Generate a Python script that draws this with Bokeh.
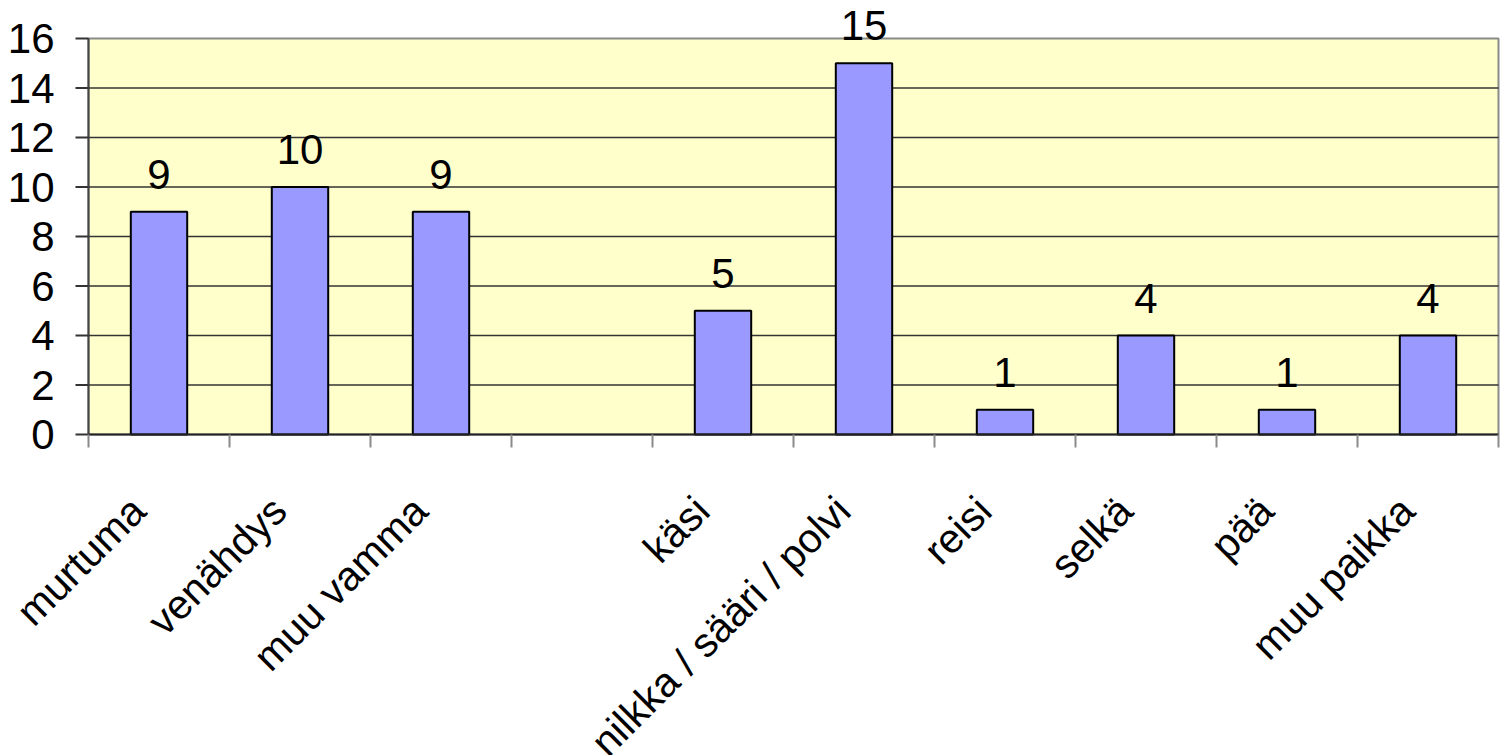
import math
from bokeh.plotting import figure
from bokeh.models import Range1d, ColumnDataSource, LabelSet
from bokeh.core.properties import value
from bokeh.embed import file_html
from bokeh.resources import INLINE

categories = ["murtuma", "venähdys", "muu vamma", "", "käsi",
              "nilkka / sääri / polvi", "reisi", "selkä", "pää", "muu paikka"]
values = [9, 10, 9, None, 5, 15, 1, 4, 1, 4]
y_ticks = [0, 2, 4, 6, 8, 10, 12, 14, 16]

FONT = "Liberation Sans"
FS = "42px"
FS_CAT = "41px"

# layout (pixels)
W, H = 1500, 755
FRAME_LEFT, FRAME_RIGHT = 88, 1498
FRAME_TOP, FRAME_BOTTOM = 38, 434
n = len(categories)
Y_MAX = y_ticks[-1]
PY = (FRAME_BOTTOM - FRAME_TOP) / Y_MAX      # px per y unit
PXX = (FRAME_RIGHT - FRAME_LEFT) / n         # px per category

xs = [i + 0.5 for i, v in enumerate(values) if v is not None]
tops = [v for v in values if v is not None]
src = ColumnDataSource(dict(x=xs, top=tops, label=[str(v) for v in tops]))

cat_names = [c for c in categories if c]
cat_src = ColumnDataSource(dict(
    x=[i + 0.5 - 37 / PXX for i, c in enumerate(categories) if c],
    y=[-53 / PY] * len(cat_names),
    text=cat_names))

ytick_src = ColumnDataSource(dict(
    x=[-(13 + 21) / PXX] * len(y_ticks), y=y_ticks,
    text=[str(t) for t in y_ticks]))

p = figure(width=W, height=H, output_backend="svg", toolbar_location=None,
           title=None, x_axis_location=None, y_axis_location=None,
           x_range=Range1d(-FRAME_LEFT / PXX, (W - FRAME_LEFT) / PXX),
           y_range=Range1d(-(H - FRAME_BOTTOM) / PY, Y_MAX + FRAME_TOP / PY))
p.min_border = 0
p.background_fill_color = "white"
p.border_fill_color = "white"
p.outline_line_color = None
p.grid.visible = False

# plot area (yellow, with grey border)
p.quad(left=0, right=n, bottom=0, top=Y_MAX, fill_color="#FFFFCC",
       line_color="#8a8a8a", line_width=2)

# horizontal grid lines (inner ones; the top one is the plot-area border)
inner = y_ticks[1:-1]
p.segment(x0=[0] * len(inner), y0=inner, x1=[n] * len(inner), y1=inner,
          line_color="#333333", line_width=1.5)

# y axis line and ticks
p.segment(x0=[0], y0=[0], x1=[0], y1=[Y_MAX], line_color="#444444", line_width=2)
p.segment(x0=[0] * len(y_ticks), y0=y_ticks, x1=[-13 / PXX] * len(y_ticks), y1=y_ticks,
          line_color="#333333", line_width=2)

# bars
p.vbar(x="x", top="top", bottom=0, width=0.4, source=src,
       fill_color="#9999FF", line_color="black", line_width=2)

# category axis: line at zero, ticks at category boundaries
bx = list(range(n + 1))
p.segment(x0=[0], y0=[0], x1=[n], y1=[0], line_color="#222222", line_width=2)
p.segment(x0=bx, y0=[0] * (n + 1), x1=bx, y1=[-13 / PY] * (n + 1),
          line_color="#8a8a8a", line_width=2)

p.add_layout(LabelSet(x="x", y="top", text="label", source=src,
                      text_align="center", text_baseline="alphabetic", y_offset=23,
                      text_font=value(FONT), text_font_size=FS, text_color="black"))

p.add_layout(LabelSet(x="x", y="y", text="text", source=cat_src,
                      angle=math.pi / 4, text_align="right", text_baseline="top",
                      text_font=value(FONT), text_font_size=FS_CAT, text_color="black"))

p.add_layout(LabelSet(x="x", y="y", text="text", source=ytick_src,
                      text_align="right", text_baseline="middle",
                      text_font=value(FONT), text_font_size=FS, text_color="black"))

open("out.html", "w").write(file_html(p, INLINE))
